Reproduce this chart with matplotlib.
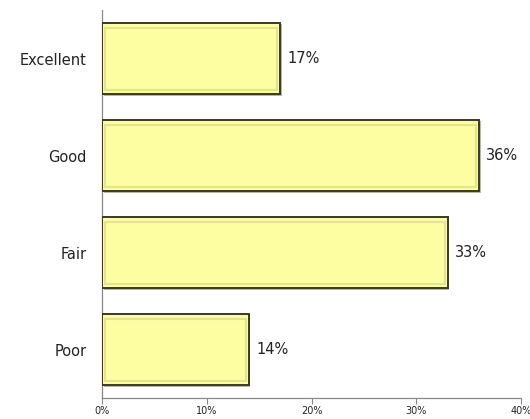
import matplotlib.pyplot as plt
import matplotlib.patheffects as pe
from matplotlib.ticker import FuncFormatter

categories = ['Excellent', 'Good', 'Fair', 'Poor']
percentages = [17, 36, 33, 14]

fig = plt.figure(figsize=(5.30, 4.19), dpi=100, facecolor='white')
ax = fig.add_axes([0.1925, 0.050, 0.7905, 0.926])

# Poor at the bottom, Excellent at the top
ypos = list(range(len(categories)))[::-1]

bars = ax.barh(ypos, percentages, height=0.74, color='#FDFDA2',
               edgecolor='#3a3a22', linewidth=1.4, zorder=3)
for b in bars:
    b.set_path_effects([pe.SimplePatchShadow(offset=(1.2, -1.2), shadow_rgbFace='#888866', alpha=0.6),
                        pe.Normal()])
    # inner bevel
    x0, y0 = b.get_x(), b.get_y()
    w, h = b.get_width(), b.get_height()
    ax.add_patch(plt.Rectangle((x0 + 0.25, y0 + 0.05), w - 0.5, h - 0.1,
                               fill=False, edgecolor='#E4E48C', linewidth=1.5, zorder=4))

for y, v in zip(ypos, percentages):
    ax.text(v + 0.7, y, f'{v}%', va='center', ha='left', fontsize=10.5, color='#222222')

ax.set_yticks(ypos)
ax.set_yticklabels(categories, fontsize=10.5, color='#222222')
ax.tick_params(axis='y', length=0, pad=11)

ax.set_xlim(0, 40)
ax.set_ylim(-0.5, 3.5)
ax.set_xticks([0, 10, 20, 30, 40])
ax.xaxis.set_major_formatter(FuncFormatter(lambda v, p: f'{int(v)}%'))
ax.tick_params(axis='x', labelsize=7, colors='#222222', length=4, width=0.8, direction='out', pad=2)
ax.tick_params(axis='x', color='#888888')

for s in ['top', 'right']:
    ax.spines[s].set_visible(False)
for s in ['left', 'bottom']:
    ax.spines[s].set_color('#888888')
    ax.spines[s].set_linewidth(0.9)

fig.savefig('out.png', dpi=100, facecolor='white')
